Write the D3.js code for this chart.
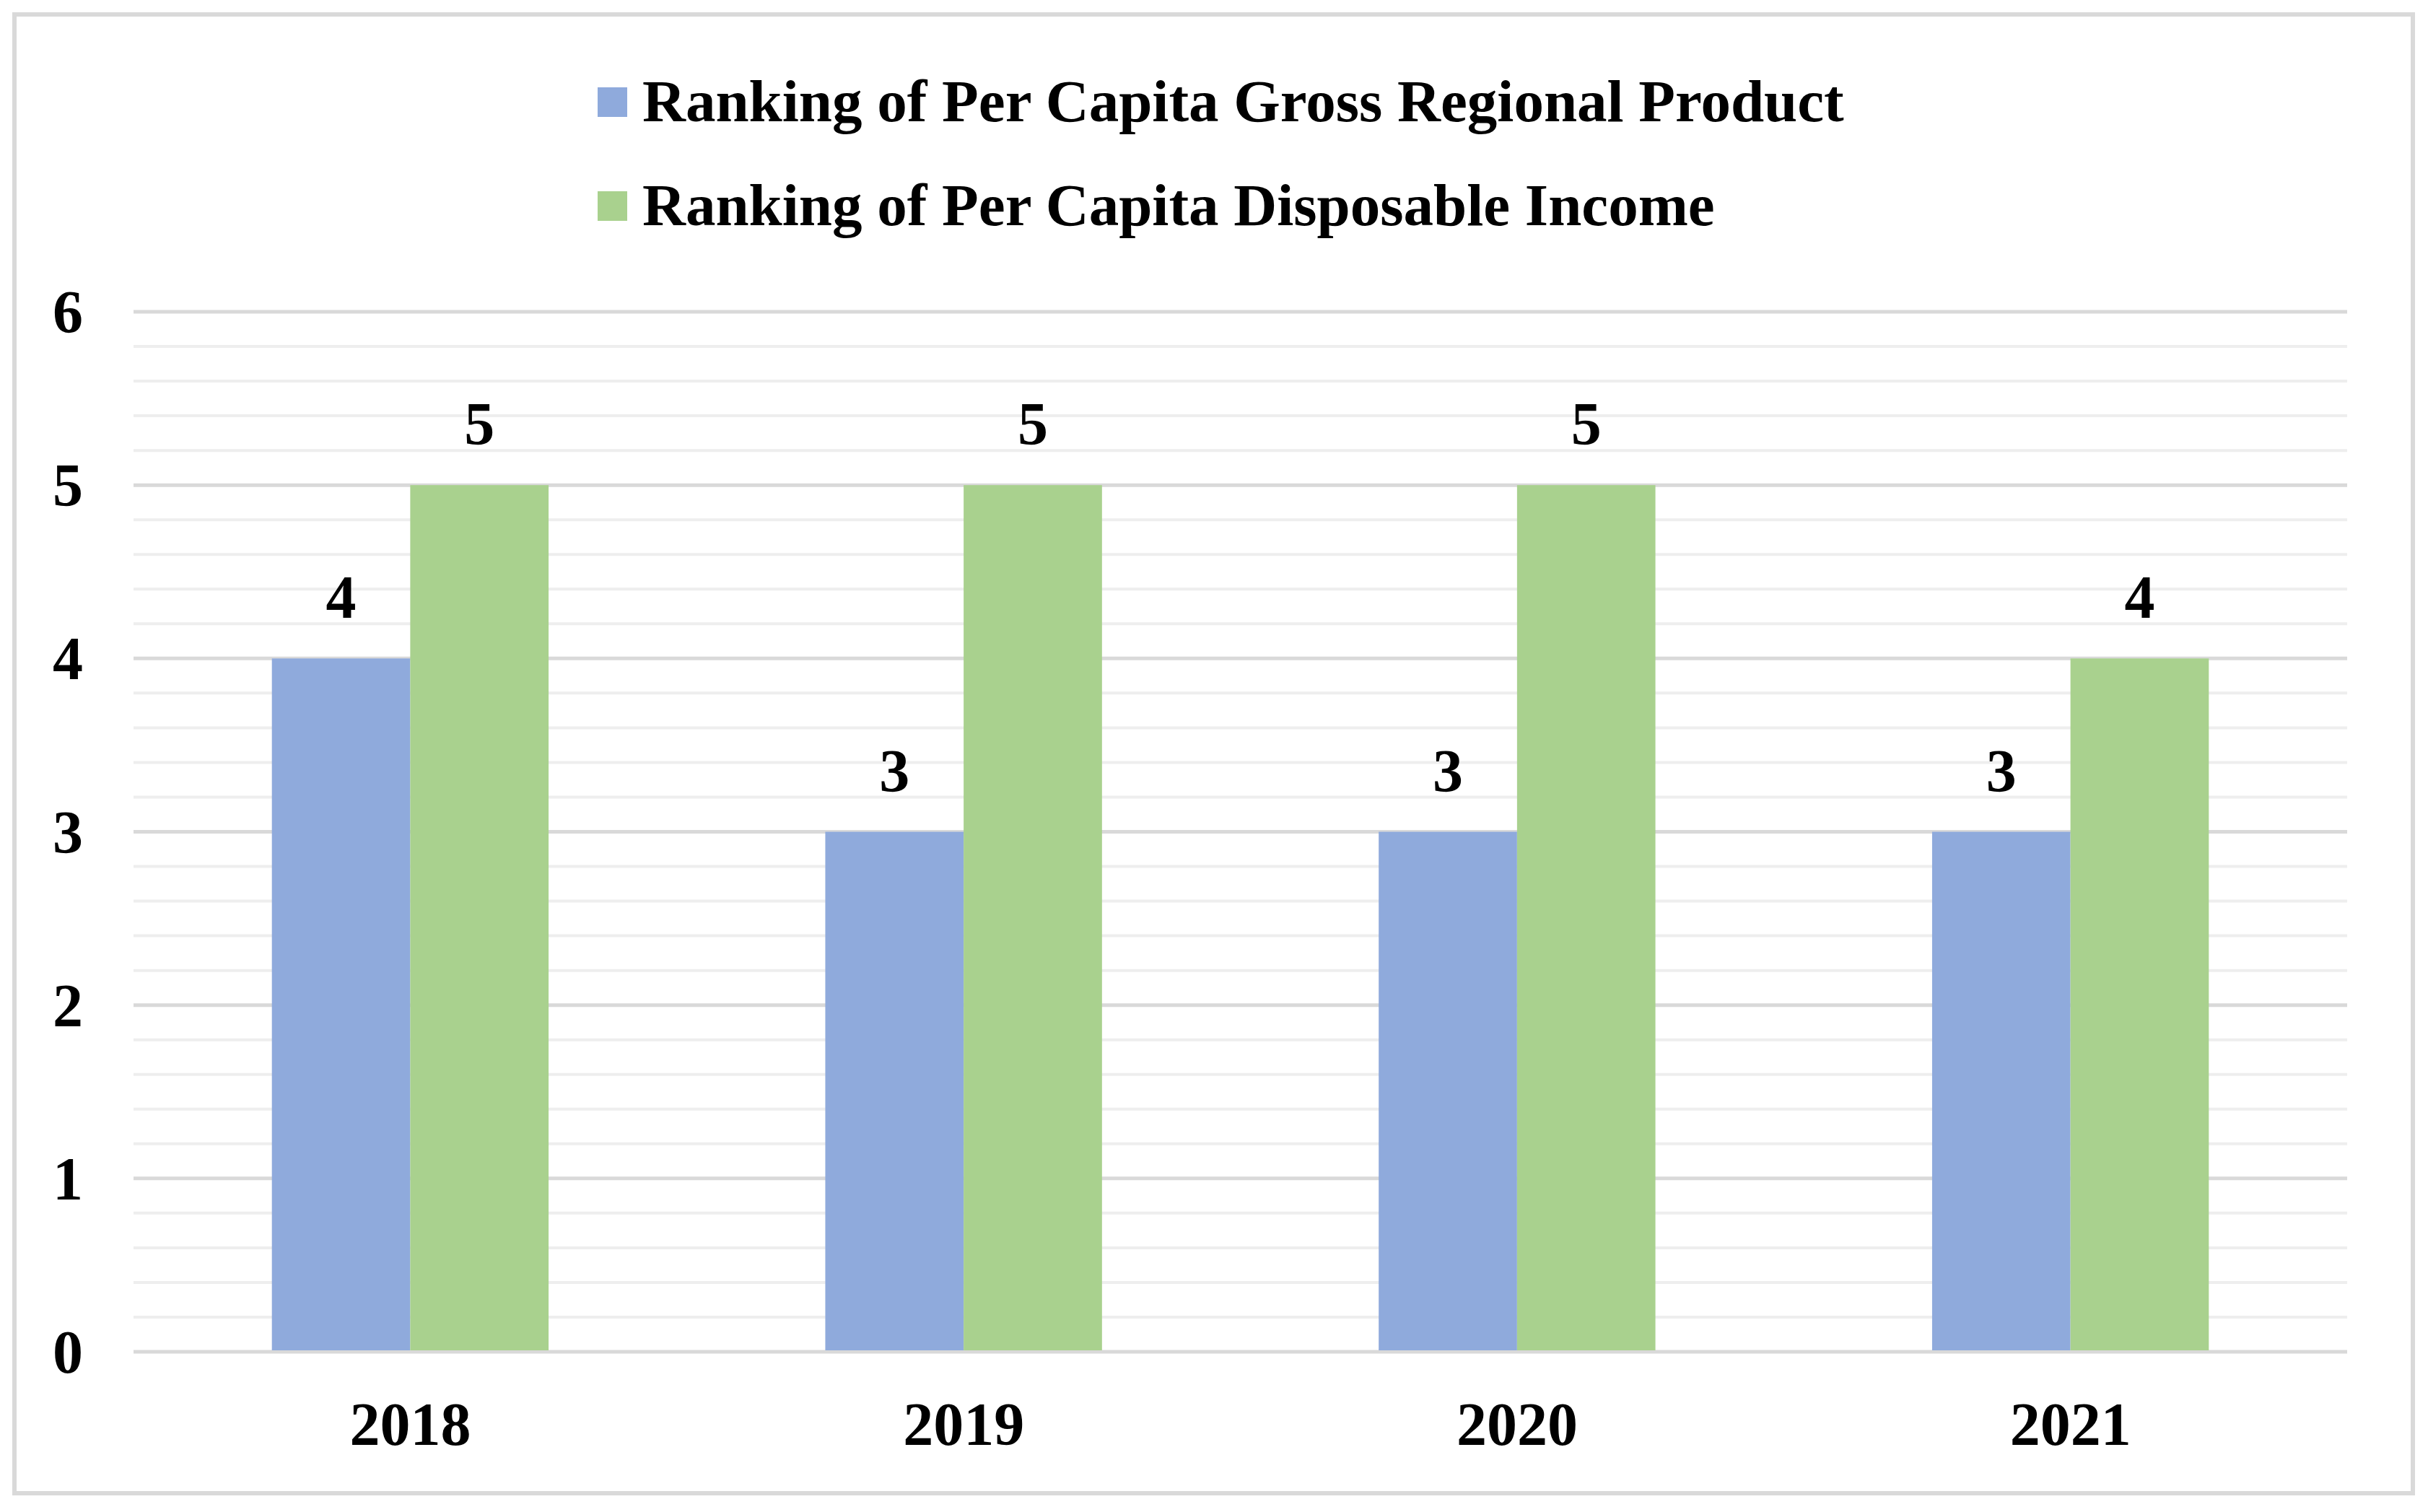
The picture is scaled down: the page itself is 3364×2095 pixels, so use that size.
<!DOCTYPE html>
<html>
<head>
<meta charset="utf-8">
<script src="https://cdn.jsdelivr.net/npm/d3@7"></script>
<style>
  html, body { margin: 0; padding: 0; background: #fff; }
  text { font-family: "Liberation Serif", "Times New Roman", serif; font-weight: bold; fill: #000; }
</style>
</head>
<body>
<svg id="chart"></svg>
<script>
// chart data
var years = ["2018", "2019", "2020", "2021"];
var seriesNames = ["Ranking of Per Capita Gross Regional Product", "Ranking of Per Capita Disposable Income"];
var gdpRank = [4, 3, 3, 3];
var incomeRank = [5, 5, 5, 4];
var yTicks = [0, 1, 2, 3, 4, 5, 6];

var W = 3364, H = 2095;
var colors = ["#8faadc", "#a9d18e"];
var fontSize = 84;

var svg = d3.select("#chart").attr("width", W).attr("height", H);

// outer frame
svg.append("rect")
    .attr("x", 20).attr("y", 20)
    .attr("width", 3323).attr("height", 2049)
    .attr("fill", "#fff")
    .attr("stroke", "#d9d9d9")
    .attr("stroke-width", 6);

// plot area (note: "top" is a reserved window prop, so use plot* names)
var plotLeft = 185, plotRight = 3252, plotTop = 432, plotBottom = 1873;

var x = d3.scaleBand()
    .domain(years)
    .range([plotLeft, plotRight])
    .paddingInner(0.5)
    .paddingOuter(0.25);

var x1 = d3.scaleBand()
    .domain(d3.range(seriesNames.length))
    .range([0, x.bandwidth()]);

var y = d3.scaleLinear().domain([0, 6]).range([plotBottom, plotTop]);

var rows = years.map(function(yr, i){
    return {year: yr, values: [gdpRank[i], incomeRank[i]]};
});

// minor grid lines
var minor = d3.range(0, 6, 0.2).filter(function(v){ return Math.abs(v - Math.round(v)) > 0.01; });
svg.append("g").selectAll("line")
    .data(minor)
    .enter().append("line")
    .attr("x1", plotLeft).attr("x2", plotRight)
    .attr("y1", d => y(d)).attr("y2", d => y(d))
    .attr("stroke", "#eeeeee")
    .attr("stroke-width", 4);

// major grid lines
svg.append("g").selectAll("line")
    .data(yTicks)
    .enter().append("line")
    .attr("x1", plotLeft).attr("x2", plotRight)
    .attr("y1", d => y(d)).attr("y2", d => y(d))
    .attr("stroke", "#d9d9d9")
    .attr("stroke-width", 5);

// y axis labels
var yAxis = d3.axisLeft(y).tickValues(yTicks).tickFormat(d3.format("d")).tickSize(0).tickPadding(0);
var yg = svg.append("g").attr("transform", "translate(94,0)").call(yAxis);
yg.select(".domain").remove();
yg.selectAll("text")
    .attr("text-anchor", "middle")
    .attr("x", 0)
    .attr("dy", null)
    .attr("dominant-baseline", "central")
    .style("font-size", fontSize + "px")
    .style("font-family", "'Liberation Serif', 'Times New Roman', serif")
    .style("font-weight", "bold")
    .attr("fill", "#000");

// x axis labels
var xAxis = d3.axisBottom(x).tickSize(0).tickPadding(0);
var xg = svg.append("g").attr("transform", "translate(0,2002)").call(xAxis);
xg.select(".domain").remove();
xg.selectAll("text")
    .attr("y", 0)
    .attr("dy", null)
    .style("font-size", fontSize + "px")
    .style("font-family", "'Liberation Serif', 'Times New Roman', serif")
    .style("font-weight", "bold")
    .attr("fill", "#000");

// bars
var groups = svg.append("g").selectAll("g")
    .data(rows)
    .enter().append("g")
    .attr("transform", d => "translate(" + x(d.year) + ",0)");

groups.selectAll("rect")
    .data(d => d.values)
    .enter().append("rect")
    .attr("x", (d, i) => x1(i))
    .attr("width", x1.bandwidth())
    .attr("y", d => y(d))
    .attr("height", d => y(0) - y(d) - 2)
    .attr("fill", (d, i) => colors[i]);

groups.selectAll("text")
    .data(d => d.values)
    .enter().append("text")
    .attr("x", (d, i) => x1(i) + x1.bandwidth() / 2)
    .attr("y", d => y(d) - 56)
    .attr("text-anchor", "middle")
    .style("font-size", fontSize + "px")
    .text(d => d);

// legend
var legend = svg.append("g").selectAll("g")
    .data(seriesNames)
    .enter().append("g")
    .attr("transform", (d, i) => "translate(828," + (168 + i * 144) + ")");

legend.append("rect")
    .attr("x", 0).attr("y", -47)
    .attr("width", 41).attr("height", 41)
    .attr("fill", (d, i) => colors[i]);

legend.append("text")
    .attr("x", 62).attr("y", 0)
    .style("font-size", "83px")
    .text(d => d);
</script>
</body>
</html>
